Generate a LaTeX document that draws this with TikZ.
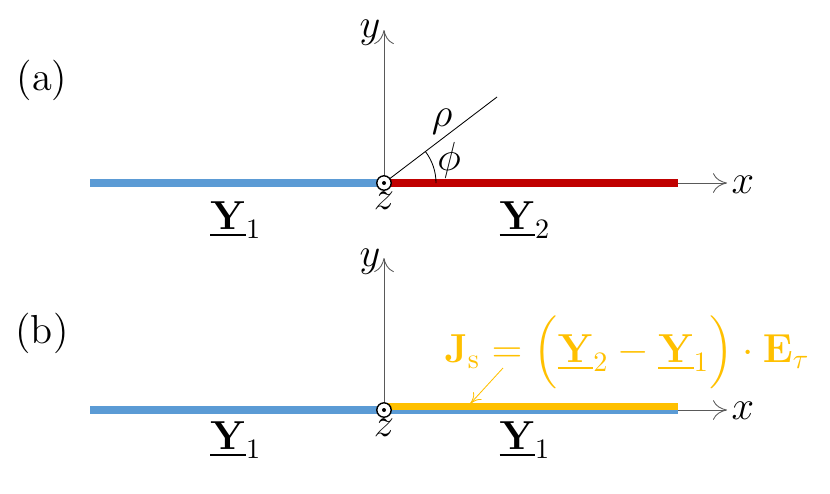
\documentclass[tikz,border=0pt]{standalone}
\usepackage{amsmath}
\usetikzlibrary{arrows.meta,calc}
\definecolor{cblue}{RGB}{91,155,213}
\definecolor{cred}{RGB}{192,0,0}
\definecolor{cyel}{RGB}{255,192,0}
\begin{document}
\begin{tikzpicture}[x=0.0125cm,y=-0.0125cm,
  axis/.style={draw=gray!70!black,line width=0.3pt,-{To[length=5pt,width=7pt,line width=0.3pt]}},
  lbl/.style={inner sep=0pt,font=\Large},
  slab/.style={line width=2.6pt}]
\useasboundingbox (0,0) rectangle (830,493);
% (a)
\coordinate (oa) at (384,183);
\coordinate (ya) at (384,30);
\coordinate (xa) at (727,183);
\coordinate (la) at (90,183);
\coordinate (ra) at (678,183);
\coordinate (ray) at (497,97);
\draw[axis] (oa) -- (ya);
\draw[axis] (oa) -- (xa);
\draw[slab,cblue] (la) -- (oa);
\draw[slab,cred] (oa) -- (ra);
\draw[line width=0.3pt] (oa) -- (ray);
\draw[line width=0.3pt] ($(oa)+(52,0)$) arc[start angle=0,end angle=37,radius=0.65cm];
\node[lbl] (ylabA) at (370,33) {$y$};
\node[lbl] (xlabA) at (743,185) {$x$};
\node[lbl] (rho) at (442,122) {$\rho$};
\node[lbl] (phi) at (449,160) {$\phi$};
\node[lbl] (zA) at (384,201) {$z$};
\node[lbl] (Y1a) at (236,220) {$\underline{\mathbf{Y}}_1$};
\node[lbl] (Y2a) at (525,220) {$\underline{\mathbf{Y}}_2$};
\node[lbl] (a) at (42,80) {(a)};
\draw[fill=white,line width=0.5pt] (oa) circle[radius=0.09cm];
\fill (oa) circle[radius=0.025cm];
% (b)
\coordinate (ob) at (384,410);
\coordinate (yb) at (384,258);
\coordinate (xb) at (727,410);
\coordinate (lb) at (90,410);
\coordinate (rb) at (678,410);
\draw[axis] (ob) -- (yb);
\draw[axis] (ob) -- (xb);
\draw[slab,cblue] (lb) -- (rb);
\draw[line width=2.4pt,cyel] (384,406.5) -- (678,406.5);
\node[lbl] (ylabB) at (370,262) {$y$};
\node[lbl] (xlabB) at (743,411) {$x$};
\node[lbl] (zB) at (384,428) {$z$};
\node[lbl] (Y1b) at (236,440) {$\underline{\mathbf{Y}}_1$};
\node[lbl] (Y1c) at (525,440) {$\underline{\mathbf{Y}}_1$};
\node[lbl] (b) at (42,333) {(b)};
\node[lbl,text=cyel] (J) at (627,352) {$\mathbf{J}_{\mathrm{s}}=\Bigl(\underline{\mathbf{Y}}_2-\underline{\mathbf{Y}}_1\Bigr)\cdot\mathbf{E}_{\tau}$};
\coordinate (jt) at (470,404);
\draw[cyel,line width=0.3pt,-{To[length=4pt,width=4pt]}] (503,368) -- (jt);
\draw[fill=white,line width=0.5pt] (ob) circle[radius=0.09cm];
\fill (ob) circle[radius=0.025cm];
\end{tikzpicture}
\end{document}
